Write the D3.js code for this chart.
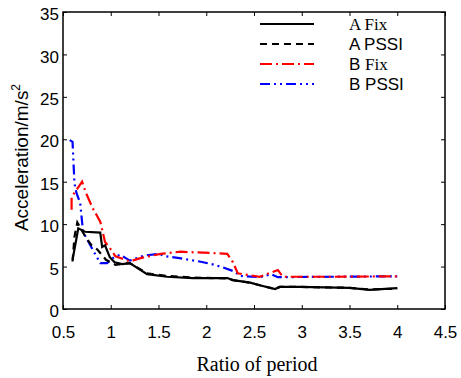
<!DOCTYPE html>
<html>
<head>
<meta charset="utf-8">
<script src="https://cdn.jsdelivr.net/npm/d3@7/dist/d3.min.js"></script>
<style>
  body { margin: 0; background: #fff; }
  svg { display: block; }
  .tick text { font-family: Arial, "Liberation Sans", sans-serif; font-size: 16px; fill: #000; }
</style>
</head>
<body>
<svg width="461" height="378"></svg>
<script>
// tick labels
const xTicks = [0.5, 1, 1.5, 2, 2.5, 3, 3.5, 4, 4.5];
const yTicks = [0, 5, 10, 15, 20, 25, 30, 35];

// series (ratio of period, acceleration)
const aFixX = [0.6, 0.66, 0.73, 0.89, 0.91, 0.94, 0.99, 1.04, 1.12, 1.2, 1.38, 1.59, 1.86, 2.22, 2.28, 2.46, 2.56, 2.72, 2.77, 2.98, 3.5, 3.71, 4.0];
const aFixY = [5.8, 9.5, 9.1, 9.0, 7.3, 7.5, 6.1, 5.5, 5.3, 5.4, 4.1, 3.8, 3.65, 3.65, 3.4, 3.1, 2.8, 2.35, 2.6, 2.6, 2.5, 2.25, 2.45];

const aPssiX = [0.6, 0.62, 0.65, 0.74, 0.8, 0.86, 0.95, 1.05, 1.12, 1.2, 1.38, 1.59, 1.86, 2.22, 2.28, 2.46, 2.56, 2.72, 2.77, 2.98, 3.5, 3.71, 4.0];
const aPssiY = [5.6, 8.5, 10.2, 8.4, 7.5, 7.0, 5.8, 5.2, 5.3, 5.4, 4.2, 3.9, 3.7, 3.6, 3.4, 3.1, 2.8, 2.35, 2.6, 2.6, 2.5, 2.3, 2.4];

const bFixX = [0.59, 0.59, 0.7, 0.74, 0.81, 0.89, 0.94, 0.99, 1.05, 1.2, 1.31, 1.52, 1.73, 2.04, 2.22, 2.28, 2.33, 2.56, 2.75, 2.8, 3.3, 4.0];
const bFixY = [11.7, 13.2, 15.0, 13.7, 11.9, 10.3, 7.9, 7.2, 6.2, 5.6, 6.0, 6.5, 6.75, 6.6, 6.5, 5.5, 4.2, 3.8, 4.6, 3.8, 3.8, 3.85];

const bPssiX = [0.57, 0.6, 0.62, 0.64, 0.68, 0.71, 0.81, 0.89, 0.96, 1.02, 1.1, 1.2, 1.35, 1.5, 1.58, 1.72, 1.93, 2.09, 2.2, 2.3, 2.35, 2.56, 2.68, 2.75, 3.3, 4.0];
const bPssiY = [19.9, 19.7, 14.8, 13.7, 12.5, 9.1, 7.0, 5.4, 5.4, 6.0, 6.4, 5.7, 6.3, 6.5, 6.2, 6.0, 5.6, 5.2, 4.8, 4.4, 3.9, 3.75, 4.1, 3.75, 3.8, 3.85];

const seriesNames = ["A Fix", "A PSSI", "B Fix", "B PSSI"];
const seriesColors = ["#000", "#000", "#ff0000", "#0000ff"];
const seriesDash = [null, "7,5", "12,4,2,4", "10,4,2,4,2,4"];

const svg = d3.select("svg");
const margin = { left: 63, right: 16, top: 12, bottom: 69 };
const W = 461, H = 378;

const x = d3.scaleLinear().domain([0.5, 4.5]).range([margin.left, W - margin.right]);
const y = d3.scaleLinear().domain([0, 35]).range([H - margin.bottom, margin.top]);

const serif = "'Times New Roman', 'Liberation Serif', serif";
const sans = "Arial, 'Liberation Sans', sans-serif";

// axes with inward ticks
const gx = svg.append("g").attr("transform", `translate(0,${y(0)})`)
    .call(d3.axisBottom(x).tickValues(xTicks).tickSizeInner(-4).tickSizeOuter(0).tickPadding(17).tickFormat(d3.format("")));
const gy = svg.append("g").attr("transform", `translate(${x(0.5)},0)`)
    .call(d3.axisLeft(y).tickValues(yTicks).tickSizeInner(-4).tickSizeOuter(0).tickPadding(4));
const gxt = svg.append("g").attr("transform", `translate(0,${y(35)})`)
    .call(d3.axisTop(x).tickValues(xTicks).tickSizeInner(-4).tickSizeOuter(0).tickFormat(""));
const gyr = svg.append("g").attr("transform", `translate(${x(4.5)},0)`)
    .call(d3.axisRight(y).tickValues(yTicks).tickSizeInner(-4).tickSizeOuter(0).tickFormat(""));
[gx, gy, gxt, gyr].forEach(g => {
    g.select(".domain").remove();
    g.selectAll(".tick line").attr("stroke", "#000").attr("stroke-width", 1);
});
gy.selectAll(".tick text").attr("dy", "0.45em").style("font-size", "17px");
gx.selectAll(".tick text").style("font-size", "17px");

// frame
svg.append("rect")
    .attr("x", x(0.5)).attr("y", y(35))
    .attr("width", x(4.5) - x(0.5)).attr("height", y(0) - y(35))
    .attr("fill", "none").attr("stroke", "#000").attr("stroke-width", 1.5);

// lines
const allSeries = [
    d3.zip(aFixX, aFixY),
    d3.zip(aPssiX, aPssiY),
    d3.zip(bFixX, bFixY),
    d3.zip(bPssiX, bPssiY)
];
const line = d3.line().x(d => x(d[0])).y(d => y(d[1]));

const drawOrder = [3, 2, 1, 0];
drawOrder.forEach(i => {
    svg.append("path")
        .datum(allSeries[i])
        .attr("d", line)
        .attr("fill", "none")
        .attr("stroke", seriesColors[i])
        .attr("stroke-width", 2.2)
        .attr("stroke-dasharray", seriesDash[i]);
});

// legend
const legend = svg.append("g");
const legendLabels = [
    [["A Fix", serif]],
    [["A PSSI", sans]],
    [["B ", sans], ["Fix", serif]],
    [["B PSSI", sans]]
];
seriesNames.forEach((name, i) => {
    const ly = 24 + i * 20;
    legend.append("line")
        .attr("x1", 260).attr("x2", 314).attr("y1", ly).attr("y2", ly)
        .attr("stroke", seriesColors[i]).attr("stroke-width", 2.2)
        .attr("stroke-dasharray", seriesDash[i]);
    const t = legend.append("text").attr("x", 349).attr("y", ly + 6)
        .attr("font-size", 17).attr("fill", "#000");
    legendLabels[i].forEach(([s, f]) => t.append("tspan").attr("font-family", f).text(s));
});

// axis titles
svg.append("text")
    .attr("x", (x(0.5) + x(4.5)) / 2 + 3).attr("y", 371)
    .attr("text-anchor", "middle")
    .attr("font-family", serif).attr("font-size", 20)
    .text("Ratio of period");

const yl = svg.append("text")
    .attr("transform", `translate(28,${(y(0) + y(35)) / 2 - 3}) rotate(-90)`)
    .attr("text-anchor", "middle")
    .attr("font-family", sans).attr("font-size", 19);
yl.append("tspan").text("Acceleration/m/s");
yl.append("tspan").attr("dy", -8).attr("font-size", 12).text("2");
</script>
</body>
</html>
